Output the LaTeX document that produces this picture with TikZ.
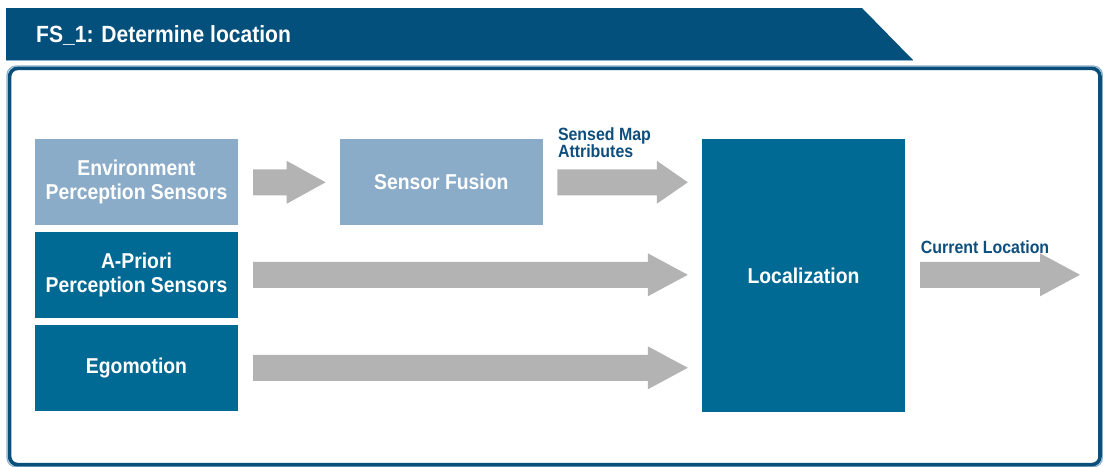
\documentclass[tikz,border=0pt]{standalone}
\usepackage{fontspec}
\newfontfamily\cond{Liberation Sans}[FakeStretch=0.9]
\usetikzlibrary{calc}
\definecolor{hdrblue}{RGB}{4,80,125}
\definecolor{frameblue}{RGB}{10,79,123}
\definecolor{edgeblue}{RGB}{142,177,204}
\definecolor{lightbox}{RGB}{139,172,201}
\definecolor{darkbox}{RGB}{0,106,148}
\definecolor{arrowgray}{RGB}{179,179,179}
\definecolor{labelblue}{RGB}{14,78,124}
\tikzset{
  box/.style={inner sep=0pt, minimum width=203pt, minimum height=86pt, text=white,
    align=center, font=\cond\bfseries\fontsize{21.5}{24}\selectfont},
  lightbx/.style={box, fill=lightbox},
  darkbx/.style={box, fill=darkbox},
  arrowlabel/.style={inner sep=0pt, text=labelblue, align=left, text depth=0pt,
    font=\cond\bfseries\fontsize{17.7}{16}\selectfont},
}
% fat arrow from #1 to the x of #2 (at the y of #1), head length #3
\newcommand{\fatarrow}[3]{%
  \fill[arrowgray] let \p1=(#1), \p2=(#2) in
    (\x1,\y1+13pt) -- (\x2-#3,\y1+13pt) -- (\x2-#3,\y1+21.5pt) -- (\x2,\y1)
    -- (\x2-#3,\y1-21.5pt) -- (\x2-#3,\y1-13pt) -- (\x1,\y1-13pt) -- cycle;}
\begin{document}
\begin{tikzpicture}[x=1pt,y=-1pt]
\useasboundingbox (0,0) rectangle (1103,466);
% header
\fill[hdrblue] (6,8) -- (862,8) -- (913,60) -- (6,60) -- cycle;
\draw[edgeblue, line width=1.2pt] (6,60.2) -- (913,60.2);
\node[anchor=base west, inner sep=0pt, text=white,
  font=\cond\bfseries\fontsize{23.4}{26}\selectfont] (title) at (36,42) {FS\_1: Determine location};
% frame
\draw[edgeblue, line width=1.2pt, rounded corners=9pt] (7,66) rectangle (1102.4,466.8);
\draw[frameblue, line width=3.6pt, rounded corners=8pt] (9.6,68.4) rectangle (1100,464.6);
% boxes
\node[lightbx] (env) at (136.5,182.3) {Environment\\Perception Sensors};
\node[darkbx] (apriori) at (136.5,274.8) {A-Priori\\Perception Sensors};
\node[darkbx] (ego) at (136.5,367.8) {Egomotion};
\node[lightbx] (fusion) at (441.3,182.3) {Sensor Fusion};
\node[darkbx, minimum width=203pt, minimum height=273pt] (loc) at (803.5,275.5) {Localization};
% arrow end points
\coordinate (a1s) at ($(env.east)+(15,0)$);
\coordinate (a1e) at ($(fusion.west)+(-14,0)$);
\coordinate (a2s) at ($(fusion.east)+(14.3,0)$);
\coordinate (a2e) at ($(loc.west |- fusion.east)+(-14,0)$);
\coordinate (a3s) at ($(apriori.east)+(15,0)$);
\coordinate (a3e) at ($(loc.west |- apriori.east)+(-14,0)$);
\coordinate (a4s) at ($(ego.east)+(15,0)$);
\coordinate (a4e) at ($(loc.west |- ego.east)+(-14,0)$);
\coordinate (a5s) at ($(loc.east |- apriori.east)+(15,0)$);
\coordinate (out) at (1080,274.8);
% arrows
\fatarrow{a1s}{a1e}{39pt}
\fatarrow{a2s}{a2e}{31pt}
\fatarrow{a3s}{a3e}{40pt}
\fatarrow{a4s}{a4e}{40pt}
\fatarrow{a5s}{out}{40pt}
% labels
\node[arrowlabel, anchor=south west] (lsensed) at ($(a2s)+(0.5,-24.6)$) {Sensed Map\\Attributes};
\node[arrowlabel, anchor=south west] (lcurrent) at ($(a5s)+(0.5,-21.5)$) {Current Location};
\end{tikzpicture}
\end{document}
